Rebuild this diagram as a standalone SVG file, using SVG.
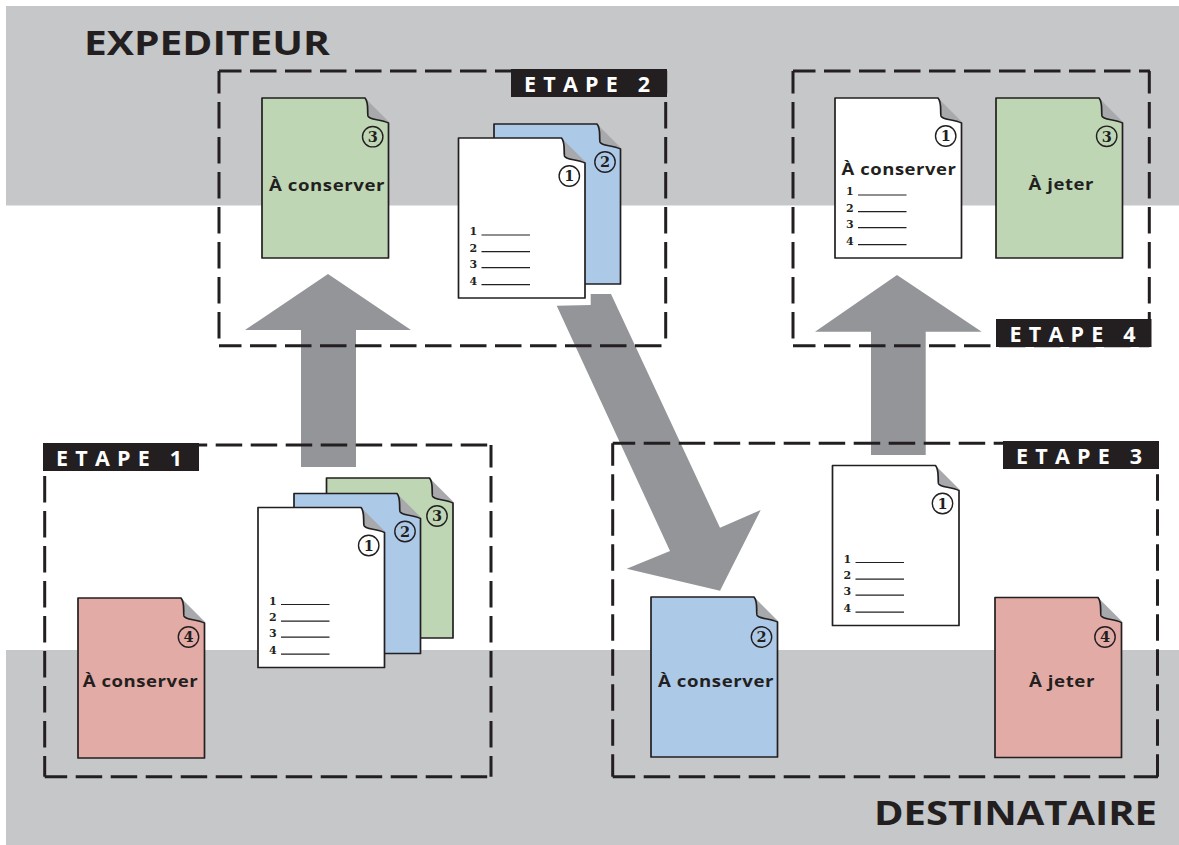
<svg xmlns="http://www.w3.org/2000/svg" width="1179" height="845" viewBox="0 0 1179 845">
<style>
.band{fill:#c6c7c9}
.box{fill:none;stroke:#231f20;stroke-width:3;stroke-dasharray:26.500 8.500;stroke-dashoffset:4}
.tag{fill:#231f20}
.tagt{font:700 21.500px "Open Sans",sans-serif;fill:#fff;letter-spacing:7.200px}
.head{font:700 34.500px "Open Sans",sans-serif;fill:#231f20}
.lab{font:700 16.500px "Open Sans",sans-serif;fill:#231f20;letter-spacing:.5px}
.num{font:700 14.500px "DejaVu Serif",serif;fill:#231f20;text-anchor:middle}
.li{font:700 11px "DejaVu Serif",serif;fill:#231f20}
.ln{stroke:#231f20;stroke-width:1.200;fill:none}
.ci{fill:none;stroke:#231f20;stroke-width:1.400}
.arrow{fill:#939598}
.w{fill:#fff}.g{fill:#bfd6b5}.b{fill:#adc9e8}.r{fill:#e3aba6}
.edge{stroke:#231f20;stroke-width:1.700;stroke-linejoin:round}
.fold{fill:#a7a9ac}
</style>
<defs>
<g id="sheet"><path class="fold" d="M103 0L127 24L108 22Z"/><path class="edge" fill="inherit" d="M0 0H103C107 5 105 12 106 18C107 22 118 21 126.500 25V160H0Z"/></g>
<g id="list">
<text class="li" x="11" y="97">1</text><line class="ln" x1="23" y1="97" x2="71.500" y2="97"/>
<text class="li" x="11" y="113.700">2</text><line class="ln" x1="23" y1="113.700" x2="71.500" y2="113.700"/>
<text class="li" x="11" y="129.700">3</text><line class="ln" x1="23" y1="129.700" x2="71.500" y2="129.700"/>
<text class="li" x="11" y="146.700">4</text><line class="ln" x1="23" y1="146.700" x2="71.500" y2="146.700"/>
</g>
<circle id="ring" class="ci" r="10.200"/>
</defs>
<rect class="band" x="6" y="6" width="1173" height="199.500"/>
<rect class="band" x="6" y="650" width="1173" height="195"/>
<text class="head" x="84" y="55" textLength="246" lengthAdjust="spacingAndGlyphs">EXPEDITEUR</text>
<text class="head" x="874" y="825" textLength="283" lengthAdjust="spacingAndGlyphs">DESTINATAIRE</text>
<g id="connectors">
<path class="arrow" d="M301 467V330H245L328 274L411 330H356V467Z"/>
<path class="arrow" d="M556.700 305.700L590.700 305V294H611L720 527.700L760.700 510L720 590.700L626.700 568.700L670 551Z"/>
<path class="arrow" d="M871 455V331.700H815L897 275L981.700 331.700H925.700V455Z"/>
</g>
<g id="etape2">
<path class="box" d="M219 71H665.700M665.700 71V345.700M219 345.700H665.700M219 71V345.700"/>
<rect class="tag" x="511" y="69" width="156" height="28"/>
<text class="tagt" x="524" y="91.500">ETAPE 2</text>
<g id="s2-green" class="g" transform="translate(262,98)"><use href="#sheet"/><use href="#ring" x="110.700" y="38.700"/><text class="num" x="110.700" y="44">3</text><text class="lab" x="7" y="92.500" textLength="116" lengthAdjust="spacingAndGlyphs">À conserver</text></g>
<g id="s2-blue" class="b" transform="translate(494,124)"><use href="#sheet"/><use href="#ring" x="111" y="38"/><text class="num" x="111" y="43.300">2</text></g>
<g id="s2-white" class="w" transform="translate(458.500,138)"><use href="#sheet"/><use href="#ring" x="110.800" y="38"/><text class="num" x="110.800" y="43.300">1</text><use href="#list"/></g>
</g>
<g id="etape4">
<path class="box" d="M793 71H1150M1149.300 71V345.700M793 345.700H1149.300M793 71V345.700"/>
<rect class="tag" x="996" y="319" width="155.500" height="28"/>
<text class="tagt" x="1009.500" y="341.500">ETAPE 4</text>
<g id="s4-white" class="w" transform="translate(835,98)"><use href="#sheet"/><use href="#ring" x="110.700" y="38"/><text class="num" x="110.700" y="43.300">1</text><text class="lab" x="6.500" y="77" textLength="115" lengthAdjust="spacingAndGlyphs">À conserver</text><use href="#list"/></g>
<g id="s4-green" class="g" transform="translate(996,98)"><use href="#sheet"/><use href="#ring" x="110.700" y="38.300"/><text class="num" x="110.700" y="43.600">3</text><text class="lab" x="32.500" y="92" textLength="65.500" lengthAdjust="spacingAndGlyphs">À jeter</text></g>
</g>
<g id="etape1">
<path class="box" d="M44.700 445H491M491 445V776.700M44.700 776.700H491M44.700 445V776.700"/>
<rect class="tag" x="43" y="443" width="156" height="28"/>
<text class="tagt" x="56" y="465.500">ETAPE 1</text>
<g id="s1-green" class="g" transform="translate(326.500,478)"><use href="#sheet"/><use href="#ring" x="110.500" y="38"/><text class="num" x="110.500" y="43.300">3</text></g>
<g id="s1-blue" class="b" transform="translate(294,493.500)"><use href="#sheet"/><use href="#ring" x="111" y="38"/><text class="num" x="111" y="43.300">2</text></g>
<g id="s1-white" class="w" transform="translate(258,507.500)"><use href="#sheet"/><use href="#ring" x="110.700" y="38"/><text class="num" x="110.700" y="43.300">1</text><use href="#list"/></g>
<g id="s1-red" class="r" transform="translate(78,598)"><use href="#sheet"/><use href="#ring" x="110.500" y="39"/><text class="num" x="110.500" y="44.300">4</text><text class="lab" x="4.700" y="89.300" textLength="115.500" lengthAdjust="spacingAndGlyphs">À conserver</text></g>
</g>
<g id="etape3">
<path class="box" d="M612.700 443.300H1158M1157.500 443.300V776.700M612.700 776.700H1158M612.700 443.300V776.700"/>
<rect class="tag" x="1003" y="441" width="156" height="28"/>
<text class="tagt" x="1016" y="463.500">ETAPE 3</text>
<g id="s3-white" class="w" transform="translate(832.500,465.500)"><use href="#sheet"/><use href="#ring" x="110" y="38"/><text class="num" x="110" y="43.300">1</text><use href="#list"/></g>
<g id="s3-blue" class="b" transform="translate(651,597)"><use href="#sheet"/><use href="#ring" x="110.500" y="40"/><text class="num" x="110.500" y="45.300">2</text><text class="lab" x="7" y="90" textLength="116" lengthAdjust="spacingAndGlyphs">À conserver</text></g>
<g id="s3-red" class="r" transform="translate(995,597.500)"><use href="#sheet"/><use href="#ring" x="110" y="39.500"/><text class="num" x="110" y="44.800">4</text><text class="lab" x="34" y="89.500" textLength="66" lengthAdjust="spacingAndGlyphs">À jeter</text></g>
</g>
</svg>
